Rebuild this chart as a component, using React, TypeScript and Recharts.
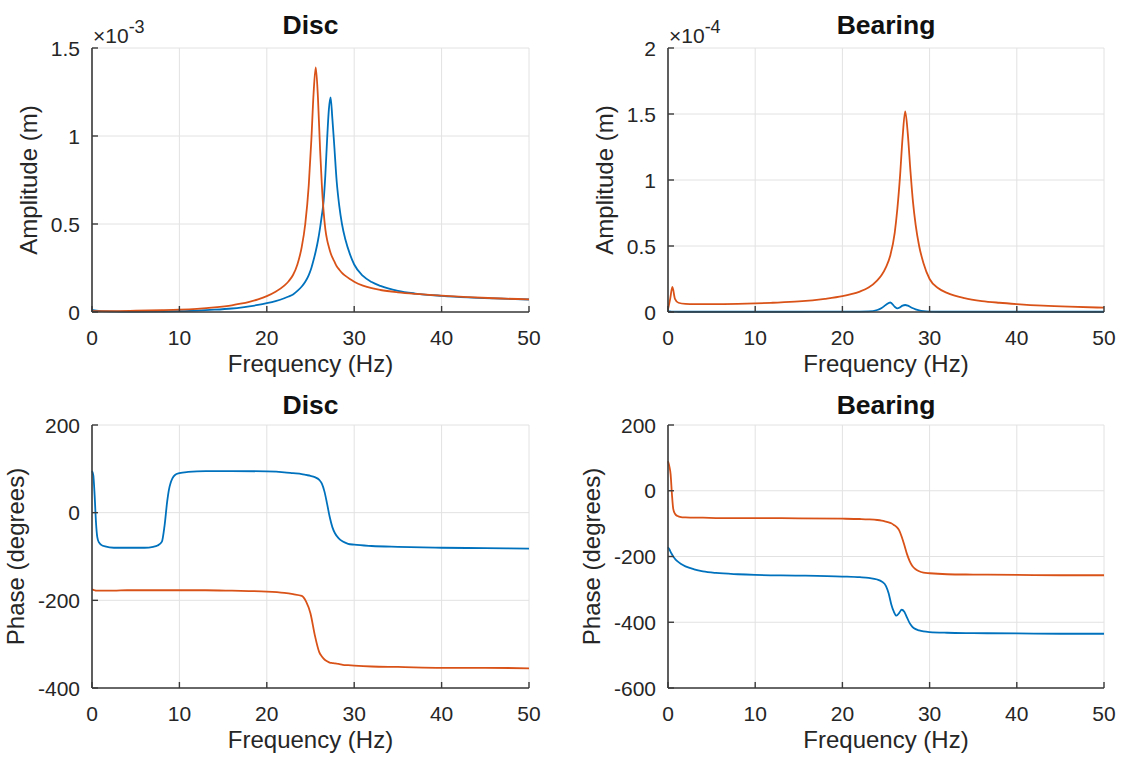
import { LineChart, Line, XAxis, YAxis, CartesianGrid } from "recharts";

const blue = "#0072BD";
const orange = "#D95319";
const axisInk = "#262626";
const axisLineInk = "#3a3a3a";
const gridInk = "#e2e2e2";
const font = '"Liberation Sans", Arial, Helvetica, sans-serif';

const freqTicks = [0, 10, 20, 30, 40, 50];

// Disc amplitude (x10^-3 m)
const discAmpFreq = [
  0, 0.5, 2, 5, 8, 10, 12, 14, 16, 17, 18, 19, 20, 21, 22, 22.5, 23, 23.5, 24, 24.4,
  24.8, 25.1, 25.35, 25.6, 25.85, 26.1, 26.3, 26.5, 26.7, 26.9, 27.1, 27.3, 27.5, 27.7, 28,
  28.3, 28.6, 29, 29.5, 30, 31, 32, 33, 35, 37, 40, 43, 46, 50,
];
const discAmpBlue = [
  0.012, 0.008, 0.004, 0.002, 0.003, 0.005, 0.008, 0.013, 0.02, 0.025,
  0.032, 0.04, 0.05, 0.062, 0.078, 0.088, 0.1, 0.12, 0.145, 0.172,
  0.21, 0.25, 0.295, 0.345, 0.405, 0.48, 0.55, 0.63, 0.78, 0.98,
  1.15, 1.22, 1.1, 0.96, 0.74, 0.6, 0.5, 0.41, 0.33, 0.27,
  0.205, 0.17, 0.148, 0.12, 0.105, 0.092, 0.083, 0.077, 0.071,
];
const discAmpOrange = [
  0.005, 0.005, 0.005, 0.007, 0.01, 0.013, 0.018, 0.026, 0.038, 0.047,
  0.058, 0.072, 0.09, 0.115, 0.15, 0.175, 0.21, 0.27, 0.37, 0.5,
  0.72, 0.98, 1.24, 1.39, 1.22, 0.92, 0.72, 0.57, 0.47, 0.41,
  0.37, 0.335, 0.31, 0.29, 0.26, 0.24, 0.222, 0.205, 0.187, 0.172,
  0.15, 0.135, 0.125, 0.112, 0.103, 0.093, 0.085, 0.078, 0.072,
];

// Bearing amplitude (x10^-4 m)
const brgAmpFreq = [
  0, 0.25, 0.5, 0.8, 1.2, 2, 3, 5, 8, 10, 12, 15, 18, 20, 21, 22, 23, 24, 24.5, 25,
  25.5, 26, 26.3, 26.6, 26.9, 27.2, 27.5, 27.8, 28.1, 28.4, 28.8, 29.3, 30, 31, 32,
  34, 36, 38, 40, 43, 46, 50,
];
const brgAmpBlue = [
  0.004, 0.004, 0.003, 0.003, 0.002, 0.002, 0.002, 0.002, 0.002, 0.002,
  0.002, 0.002, 0.003, 0.003, 0.003, 0.003, 0.004, 0.015, 0.03, 0.055,
  0.072, 0.04, 0.028, 0.035, 0.048, 0.053, 0.048, 0.038, 0.028, 0.02,
  0.012, 0.006, 0.003, 0.002, 0.002, 0.002, 0.002, 0.002, 0.002, 0.002,
  0.002, 0.002,
];
const brgAmpOrange = [
  0.02, 0.1, 0.19, 0.1, 0.07, 0.062, 0.06, 0.06, 0.062, 0.065,
  0.07, 0.08, 0.1, 0.12, 0.135, 0.155, 0.185, 0.24, 0.28, 0.34,
  0.43, 0.6, 0.78, 1.02, 1.32, 1.52, 1.35, 1.07, 0.83, 0.66,
  0.5, 0.37, 0.25, 0.18, 0.145, 0.105, 0.083, 0.07, 0.06, 0.048,
  0.04, 0.033,
];

// Disc phase (degrees)
const discPhFreq = [
  0, 0.15, 0.3, 0.45, 0.6, 0.8, 1.1, 1.5, 2.5, 4, 6, 7, 7.5, 8, 8.3, 8.6, 8.8, 9, 9.2, 9.5,
  10, 11, 13, 16, 20, 22, 23, 24, 24.5, 25, 25.5, 26, 26.3, 26.6, 26.9, 27.2, 27.5, 27.8,
  28.2, 28.7, 29.3, 30, 32, 35, 40, 45, 50,
];
const discPhBlue = [
  95, 85, 40, -20, -55, -68, -74, -77, -80, -80,
  -80, -78, -75, -66, -30, 25, 52, 68, 78, 86,
  90, 93, 95, 95, 94, 92, 90, 88, 86, 84,
  81, 75, 66, 48, 20, -10, -33, -47, -58, -66,
  -71, -73, -76, -78, -80, -81, -82,
];
const discPhOrange = [
  -175, -176, -177, -178, -178, -178, -178, -178, -178, -177,
  -177, -177, -177, -177, -177, -177, -177, -177, -177, -177,
  -177, -177, -177, -178, -180, -183, -186, -190, -203, -230,
  -280, -318, -328, -335, -339, -342, -343, -344, -345, -347,
  -348, -349, -351, -352, -354, -354, -355,
];

// Bearing phase (degrees)
const brgPhFreq = [
  0, 0.15, 0.3, 0.45, 0.6, 0.8, 1.1, 1.5, 2, 3, 4, 5.5, 8, 10, 15, 20, 22, 23, 24, 24.5,
  25, 25.3, 25.6, 25.9, 26.2, 26.5, 26.8, 27.1, 27.4, 27.7, 28, 28.4, 28.8, 29.3, 30,
  32, 35, 40, 45, 50,
];
const brgPhBlue = [
  -172, -178, -186, -193, -200, -207, -215, -223, -230, -239,
  -245, -250, -254, -256, -258, -261, -263, -265, -270, -276,
  -290, -312, -345, -368, -380, -372, -362, -368, -385, -402,
  -413, -421, -425, -428, -430, -432, -433, -434, -435, -435,
];
const brgPhOrange = [
  90, 75, 50, -10, -55, -70, -77, -80, -81, -82,
  -82, -83, -83, -83, -84, -85, -86, -87, -89, -91,
  -94, -96, -99, -104, -110, -120, -140, -165, -192, -213,
  -228, -239, -245, -249, -251, -254, -255, -256, -257, -257,
];

type Row = { f: number; blue: number; orange: number };

function rows(freq: number[], b: number[], o: number[]): Row[] {
  return freq.map((f, i) => ({ f, blue: b[i], orange: o[i] }));
}

type Box = { left: number; top: number; right: number; bottom: number };

const leftCol = { left: 92, right: 529 };
const rightCol = { left: 668, right: 1104 };
const topRow = { top: 48, bottom: 312 };
const bottomRow = { top: 425, bottom: 688 };

const PAD_L = 92;
const PAD_T = 48;
const PAD_R = 20;
const PAD_B = 70;
const Y_AXIS_W = 60;
const X_AXIS_H = 60;
const X_TICK_GAP = 33;
const Y_TICK_GAP = 12;
const TICK_LEN = 6;

function XTick(props: any) {
  const { x, y, payload } = props;
  const axisY = y - X_TICK_GAP;
  return (
    <g>
      <line x1={x} x2={x} y1={axisY} y2={axisY - TICK_LEN} stroke={axisLineInk} strokeWidth={1.4} />
      <text x={x} y={y} textAnchor="middle" fontSize={21} fill={axisInk} fontFamily={font}>
        {String(payload.value)}
      </text>
    </g>
  );
}

function YTick(props: any) {
  const { x, y, payload } = props;
  const axisX = x + Y_TICK_GAP;
  return (
    <g>
      <line x1={axisX} x2={axisX + TICK_LEN} y1={y} y2={y} stroke={axisLineInk} strokeWidth={1.4} />
      <text x={x} y={y} dy="0.36em" textAnchor="end" fontSize={21} fill={axisInk} fontFamily={font}>
        {String(payload.value)}
      </text>
    </g>
  );
}

function Panel({ box, data, yDomain, yTicks }: {
  box: Box;
  data: Row[];
  yDomain: [number, number];
  yTicks: number[];
}) {
  const w = box.right - box.left + PAD_L + PAD_R;
  const h = box.bottom - box.top + PAD_T + PAD_B;
  return (
    <div style={{ position: "absolute", left: box.left - PAD_L, top: box.top - PAD_T }}>
      <LineChart
        width={w}
        height={h}
        data={data}
        margin={{ top: PAD_T, right: PAD_R, bottom: PAD_B - X_AXIS_H, left: PAD_L - Y_AXIS_W }}
      >
        <CartesianGrid stroke={gridInk} strokeWidth={1} />
        <XAxis
          dataKey="f"
          type="number"
          domain={[0, 50]}
          ticks={freqTicks}
          interval={0}
          height={X_AXIS_H}
          tickSize={0}
          tickLine={false}
          tickMargin={X_TICK_GAP}
          tick={(p: any) => <XTick {...p} />}
          axisLine={{ stroke: axisLineInk, strokeWidth: 1.6 }}
        />
        <YAxis
          type="number"
          domain={yDomain}
          ticks={yTicks}
          interval={0}
          width={Y_AXIS_W}
          tickSize={0}
          tickLine={false}
          tickMargin={Y_TICK_GAP}
          tick={(p: any) => <YTick {...p} />}
          axisLine={{ stroke: axisLineInk, strokeWidth: 1.6 }}
        />
        <Line dataKey="blue" type="monotone" stroke={blue} strokeWidth={1.8} dot={false} activeDot={false} isAnimationActive={false} />
        <Line dataKey="orange" type="monotone" stroke={orange} strokeWidth={1.8} dot={false} activeDot={false} isAnimationActive={false} />
      </LineChart>
    </div>
  );
}

// titles, axis labels and exponent markers for one subplot
function Labels({ box, title, titleY, yLabel, yLabelOffset, exponent }: {
  box: Box;
  title: string;
  titleY: number;
  yLabel: string;
  yLabelOffset: number;
  exponent?: string;
}) {
  const cx = (box.left + box.right) / 2;
  const cy = (box.top + box.bottom) / 2;
  const lx = box.left - yLabelOffset;
  return (
    <g fontFamily={font}>
      <text x={cx} y={titleY} textAnchor="middle" fontSize={26.5} fontWeight="bold" fill="#111">
        {title}
      </text>
      <text x={cx} y={box.bottom + 60} textAnchor="middle" fontSize={24} fill={axisInk}>
        Frequency (Hz)
      </text>
      <text x={lx} y={cy} textAnchor="middle" fontSize={24} fill={axisInk} transform={`rotate(-90 ${lx} ${cy})`}>
        {yLabel}
      </text>
      {exponent && (
        <text x={box.left + 1} y={box.top - 5} fontSize={21} fill={axisInk}>
          ×10
          <tspan dy={-10} fontSize={18}>{exponent}</tspan>
        </text>
      )}
    </g>
  );
}

export default function App() {
  const discAmpBox = { ...leftCol, ...topRow };
  const brgAmpBox = { ...rightCol, ...topRow };
  const discPhBox = { ...leftCol, ...bottomRow };
  const brgPhBox = { ...rightCol, ...bottomRow };

  return (
    <div style={{ position: "absolute", left: 0, top: 0, width: 1125, height: 760, background: "#fff", overflow: "hidden" }}>
      <Panel box={discAmpBox} data={rows(discAmpFreq, discAmpBlue, discAmpOrange)} yDomain={[0, 1.5]} yTicks={[0, 0.5, 1, 1.5]} />
      <Panel box={brgAmpBox} data={rows(brgAmpFreq, brgAmpBlue, brgAmpOrange)} yDomain={[0, 2]} yTicks={[0, 0.5, 1, 1.5, 2]} />
      <Panel box={discPhBox} data={rows(discPhFreq, discPhBlue, discPhOrange)} yDomain={[-400, 200]} yTicks={[-400, -200, 0, 200]} />
      <Panel box={brgPhBox} data={rows(brgPhFreq, brgPhBlue, brgPhOrange)} yDomain={[-600, 200]} yTicks={[-600, -400, -200, 0, 200]} />
      <svg width={1125} height={760} style={{ position: "absolute", left: 0, top: 0, pointerEvents: "none" }}>
        <Labels box={discAmpBox} title="Disc" titleY={34} yLabel="Amplitude (m)" yLabelOffset={55} exponent="-3" />
        <Labels box={brgAmpBox} title="Bearing" titleY={34} yLabel="Amplitude (m)" yLabelOffset={55} exponent="-4" />
        <Labels box={discPhBox} title="Disc" titleY={414} yLabel="Phase (degrees)" yLabelOffset={68} />
        <Labels box={brgPhBox} title="Bearing" titleY={414} yLabel="Phase (degrees)" yLabelOffset={68} />
      </svg>
    </div>
  );
}
